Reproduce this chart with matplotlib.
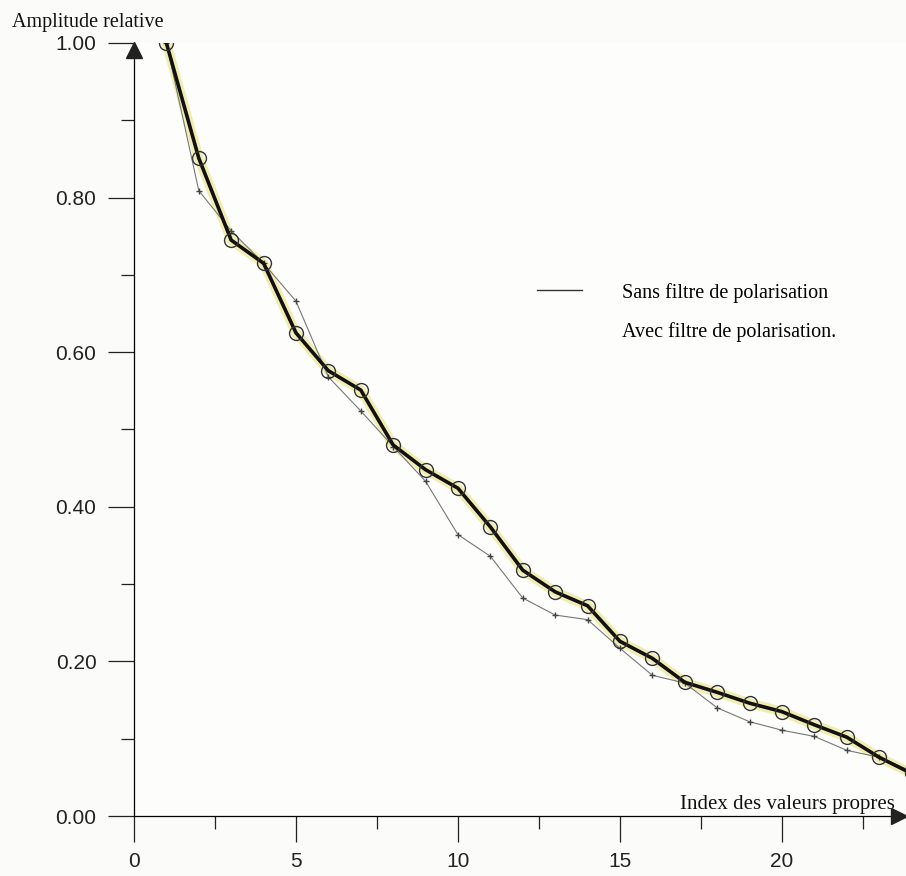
import matplotlib
matplotlib.use("Agg")
import matplotlib.pyplot as plt
import matplotlib.transforms as mtransforms
from matplotlib.lines import Line2D
from matplotlib.ticker import MultipleLocator

# Index des valeurs propres
index = [1, 2, 3, 4, 5, 6, 7, 8, 9, 10, 11, 12,
         13, 14, 15, 16, 17, 18, 19, 20, 21, 22, 23, 24]

# Sans filtre de polarisation (trait epais, cercles)
sans_filtre = [1.000, 0.851, 0.745, 0.715, 0.625, 0.576, 0.551, 0.480,
               0.448, 0.424, 0.374, 0.318, 0.290, 0.272, 0.226, 0.204,
               0.173, 0.160, 0.146, 0.135, 0.118, 0.102, 0.076, 0.055]

# Avec filtre de polarisation (trait fin, croix)
avec_filtre = [1.000, 0.809, 0.757, 0.715, 0.666, 0.568, 0.524, 0.478,
               0.433, 0.364, 0.336, 0.282, 0.260, 0.254, 0.217, 0.182,
               0.172, 0.140, 0.122, 0.111, 0.103, 0.085, 0.076, 0.058]

x_ticks = [0, 5, 10, 15, 20]
y_ticks = [0.0, 0.2, 0.4, 0.6, 0.8, 1.0]

serif = "Liberation Serif"
sans = "Liberation Sans"

fig = plt.figure(figsize=(9.06, 8.76), dpi=100)
fig.patch.set_facecolor("#fbfbfa")
ax = fig.add_axes([134 / 906, 60 / 876, 772 / 906, 773 / 876])
ax.set_facecolor("#fdfdfc")

# surlignage jaune sous la courbe principale
ax.plot(index, sans_filtre, color="#efe9a0", lw=7, alpha=0.8,
        solid_capstyle="round", zorder=1)
ax.plot(index, avec_filtre, color="#777777", lw=0.8, marker="+",
        ms=5, mew=1.0, mec="#444444", zorder=2)
ax.plot(index, sans_filtre, color="#111111", lw=2.6, marker="o", ms=10,
        mfc="none", mec="#333333", mew=1.0, zorder=3)

ax.set_xlim(0, 23.83)
ax.set_ylim(0, 1.0)

for s in ["top", "right"]:
    ax.spines[s].set_visible(False)
ax.spines["left"].set_linewidth(0.9)
ax.spines["bottom"].set_linewidth(0.9)

ax.set_xticks(x_ticks)
ax.set_yticks(y_ticks)
ax.set_yticklabels([f"{v:.2f}" for v in y_ticks])
ax.xaxis.set_minor_locator(MultipleLocator(2.5))
ax.yaxis.set_minor_locator(MultipleLocator(0.1))
ax.tick_params(axis="both", which="major", direction="out", length=19,
               width=0.9, labelsize=15, colors="#222222")
ax.tick_params(axis="both", which="minor", direction="out", length=9.5,
               width=0.9, colors="#222222")
ax.tick_params(axis="y", pad=8)
ax.tick_params(axis="x", pad=7)
for lab in ax.get_xticklabels() + ax.get_yticklabels():
    lab.set_fontfamily(sans)

# fleches des axes
tr_up = mtransforms.offset_copy(ax.transData, fig=fig, x=0, y=-7, units="dots")
tr_right = mtransforms.offset_copy(ax.transData, fig=fig, x=-7, y=0, units="dots")
ax.plot([0], [1.0], marker="^", ms=11, color="#222222", clip_on=False,
        zorder=5, transform=tr_up)
ax.plot([23.83], [0], marker=">", ms=11, color="#222222", clip_on=False,
        zorder=5, transform=tr_right)

fig.text(12 / 906, 1 - 23 / 876, "Amplitude relative", family=serif,
         fontsize=14.5, va="center", ha="left", color="#111111")
ax.text(23.49, 0.002, "Index des valeurs propres", family=serif,
        fontsize=15, ha="right", va="bottom", color="#111111")

handles = [Line2D([], [], color="#333333", lw=1.0),
           Line2D([], [], color="none", lw=0)]
ax.legend(handles, ["Sans filtre de polarisation",
                    "Avec filtre de polarisation."],
          loc="upper left", bbox_to_anchor=(0.522, 0.69), frameon=False,
          borderpad=0, borderaxespad=0,
          handlelength=2.24, handletextpad=2.0, labelspacing=0.95,
          prop={"family": serif, "size": 14.5})

fig.savefig("out.png", dpi=100)
